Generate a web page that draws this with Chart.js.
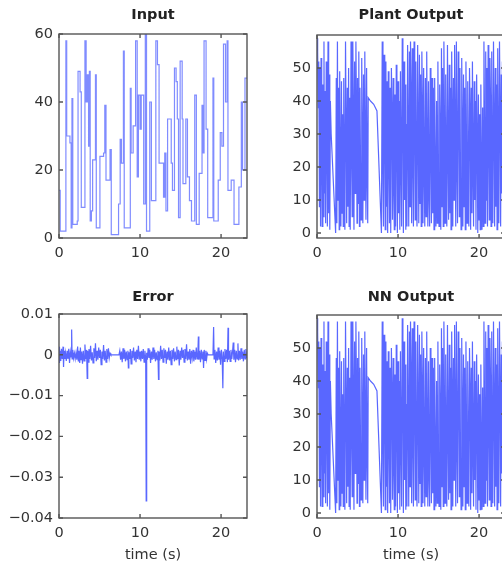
<!DOCTYPE html>
<html>
<head>
<meta charset="utf-8">
<script src="https://cdn.jsdelivr.net/npm/chart.js@4.4.1/dist/chart.umd.min.js"></script>
<style>
  html, body { margin: 0; padding: 0; background: #fff; }
  body { width: 502px; height: 568px; overflow: hidden; position: relative; }
  .panel { position: absolute; }
  canvas { display: block; }
</style>
</head>
<body>
<div class="panel" style="left:0;top:0"><canvas id="inputChart" width="260" height="270"></canvas></div>
<div class="panel" style="left:250px;top:0"><canvas id="plantChart" width="270" height="270"></canvas></div>
<div class="panel" style="left:0;top:280px"><canvas id="errorChart" width="260" height="288"></canvas></div>
<div class="panel" style="left:250px;top:280px"><canvas id="nnChart" width="270" height="288"></canvas></div>
<script>
// tick values / labels
const timeTicks = [0, 10, 20];
const inputTicks = [0, 20, 40, 60];
const outputTicks = [0, 10, 20, 30, 40, 50];
const errorTicks = [-0.04, -0.03, -0.02, -0.01, 0, 0.01];
const errorTickLabels = ['\u22120.04', '\u22120.03', '\u22120.02', '\u22120.01', '0', '0.01'];

// input signal (held between steps)
const inputTime = [
  0, 0.15, 0.85, 0.95, 1.35, 1.5, 1.6, 1.7, 2.25, 2.35, 2.6, 2.75,
  3.2, 3.35, 3.5, 3.65, 3.75, 3.85, 4.0, 4.15, 4.5, 4.6, 5.05, 5.5,
  5.65, 5.8, 6.3, 6.45, 7.35, 7.55, 7.7, 7.95, 8.05, 8.8, 8.9, 9.15,
  9.45, 9.65, 9.8, 10.0, 10.15, 10.45, 10.65, 10.8, 11.2, 11.4, 11.95, 12.15,
  12.35, 12.9, 13.05, 13.2, 13.4, 13.85, 14.0, 14.25, 14.45, 14.6, 14.75, 14.95,
  15.2, 15.3, 15.65, 15.85, 16.1, 16.35, 16.75, 16.95, 17.3, 17.65, 17.75, 17.9,
  18.15, 18.35, 19.0, 19.1, 19.65, 19.9, 20.1, 20.3, 20.55, 20.75, 20.85, 21.25,
  21.6, 22.2, 22.5, 22.65, 22.95, 23.2
];
const inputValue = [
  14, 2, 58, 30, 28, 3, 41, 4, 5, 49, 43, 9,
  58, 40, 48, 27, 49, 5, 8, 23, 48, 3, 24, 25,
  39, 17, 26, 1, 10, 29, 22, 55, 3, 44, 25, 33,
  58, 18, 42, 32, 42, 10, 60, 2, 40, 11, 58, 51,
  22, 12, 25, 8, 35, 22, 14, 50, 46, 35, 6, 52,
  35, 16, 35, 18, 11, 5, 42, 4, 19, 39, 25, 58,
  32, 6, 47, 5, 17, 31, 27, 57, 40, 58, 14, 17,
  4, 15, 40, 20, 47, 47
];

// plant output samples
const plantTime = [
  0, 0.08, 0.16, 0.22, 0.3, 0.36, 0.44, 0.5, 0.58, 0.64, 0.72, 0.8, 0.86, 0.92, 1.0, 1.06, 1.14, 1.2, 1.28, 1.36, 1.44, 1.5, 1.58, 1.65, 1.75, 2.3,
  2.38, 2.45, 2.52, 2.6, 2.66, 2.74, 2.8, 2.88, 2.95, 3.02, 3.1, 3.16, 3.24, 3.3, 3.38, 3.44, 3.52, 3.6, 3.66, 3.74, 3.82, 3.9, 3.96, 4.04, 4.1,
  4.2, 4.28, 4.34, 4.42, 4.5, 4.56, 4.64, 4.72, 4.8, 4.86, 4.94, 5.0, 5.08,
  5.16, 5.24, 5.3, 5.38, 5.44, 5.52, 5.6, 5.66, 5.74, 5.82, 5.9, 5.96, 6.04, 6.12, 6.2, 6.26, 6.32,
  6.6, 7.0, 7.4, 7.95,
  8.05, 8.14, 8.2, 8.28, 8.36, 8.42, 8.5, 8.58, 8.64, 8.72, 8.8, 8.88, 8.94, 9.02, 9.1, 9.18, 9.26, 9.32, 9.4, 9.48, 9.54,
  9.62, 9.7, 9.78, 9.86, 9.92, 10.0, 10.08, 10.16, 10.22, 10.3, 10.38, 10.44, 10.52, 10.6, 10.66, 10.74, 10.82, 10.88, 10.96, 11.04, 11.1,
  11.18, 11.26, 11.32, 11.4, 11.48, 11.54, 11.62, 11.68, 11.76, 11.84, 11.9, 11.98, 12.06, 12.12, 12.2, 12.28, 12.34, 12.42, 12.5, 12.56, 12.64, 12.72, 12.78, 12.86, 12.94,
  13.02, 13.08, 13.16, 13.24, 13.3, 13.38, 13.46, 13.54, 13.6, 13.68, 13.76, 13.84, 13.9, 13.98, 14.06, 14.12, 14.2, 14.28, 14.36, 14.44, 14.52, 14.6, 14.68, 14.76,
  14.84, 14.92, 15.0, 15.06, 15.14, 15.22, 15.28, 15.36, 15.44, 15.5, 15.58, 15.66, 15.74, 15.8, 15.88, 15.96,
  16.02, 16.1, 16.18, 16.24, 16.32, 16.4, 16.48, 16.54, 16.62, 16.7, 16.76, 16.84, 16.92, 16.98, 17.06, 17.12,
  17.2, 17.28, 17.34, 17.42, 17.5, 17.56, 17.64, 17.72, 17.78, 17.86, 17.94, 18.0, 18.08, 18.16, 18.22, 18.3, 18.38, 18.46, 18.52, 18.6, 18.68, 18.74,
  18.82, 18.9, 18.96, 19.04, 19.12, 19.18, 19.26, 19.32, 19.4, 19.48, 19.56, 19.62, 19.7, 19.78, 19.84, 19.92, 20.0, 20.08, 20.14, 20.22, 20.3, 20.36, 20.44,
  20.52, 20.6, 20.68, 20.74, 20.82, 20.9, 20.96, 21.04, 21.12, 21.2, 21.26, 21.34, 21.42, 21.48, 21.56, 21.64, 21.7, 21.78,
  21.86, 21.92, 22.0, 22.08, 22.16, 22.22, 22.3, 22.38, 22.44, 22.52, 22.6, 22.66, 22.74, 22.82, 22.88, 22.96, 23.04, 23.12, 23.2
];
const plantValue = [
  59, 55, 38, 52, 8, 50, 2, 53, 24, 2, 45, 5, 58, 12, 43, 3, 52, 30, 2, 58, 6, 48, 1, 40, 30, 0,
  47, 3, 58, 10, 44, 1, 49, 20, 2, 46, 6, 36, 2, 47, 14, 1, 58, 30, 3, 44, 8, 50, 2, 41, 1,
  58, 20, 5, 58, 34, 1, 52, 12, 58, 40, 3, 47, 9,
  55, 2, 44, 18, 4, 53, 26, 3, 48, 10, 55, 32, 4, 50, 15, 3, 41,
  40, 39, 37, 0,
  58, 15, 2, 54, 30, 1, 52, 8, 46, 0, 49, 22, 3, 44, 0, 50, 35, 4, 47, 12, 1,
  42, 2, 51, 26, 0, 46, 6, 40, 1, 49, 18, 2, 59, 38, 0, 52, 10, 45, 1, 33, 2,
  57, 25, 2, 55, 8, 58, 40, 3, 56, 20, 2, 58, 34, 4, 52, 12, 2, 57, 28, 3, 54, 9, 48, 2, 55,
  36, 3, 50, 16, 2, 47, 5, 55, 30, 2, 46, 10, 2, 50, 24, 3, 47, 6, 44, 1, 47, 20, 2, 40,
  3, 52, 14, 2, 45, 28, 1, 56, 8, 50, 2, 58, 32, 3, 48, 12,
  2, 57, 22, 4, 51, 6, 44, 1, 55, 35, 2, 47, 10, 57, 28, 2,
  58, 18, 3, 55, 40, 5, 50, 12, 1, 53, 30, 2, 48, 8, 44, 1, 52, 24, 3, 46, 14, 2,
  50, 36, 1, 44, 6, 52, 20, 2, 46, 10, 40, 1, 48, 26, 0, 42, 4, 36, 1, 45, 15, 1, 38,
  2, 58, 32, 3, 55, 10, 50, 2, 57, 26, 4, 53, 40, 2, 55, 14, 3, 58,
  30, 2, 50, 8, 45, 1, 56, 22, 3, 58, 36, 2, 48, 12, 52, 4, 45, 20, 47
];
const nnValue = plantValue;

// tracking error samples
const errorTime = [
  0, 0.06, 0.14, 0.22, 0.3, 0.4, 0.5, 0.56, 0.62, 0.72, 0.8, 0.9, 1.0, 1.1, 1.2, 1.3, 1.4, 1.5, 1.56, 1.62, 1.7, 1.8, 1.9, 2.0,
  2.1, 2.2, 2.3, 2.38, 2.46, 2.56, 2.64, 2.72, 2.8, 2.9, 3.0, 3.1, 3.2, 3.3, 3.4, 3.48, 3.54, 3.62, 3.7, 3.8, 3.9, 4.0,
  4.1, 4.2, 4.3, 4.4, 4.5, 4.6, 4.7, 4.8, 4.9, 5.0, 5.1, 5.2, 5.3, 5.4, 5.5, 5.6, 5.7, 5.8, 5.9, 6.0, 6.1, 6.2, 6.3, 6.4,
  7.4, 7.5, 7.6, 7.7, 7.8, 7.9, 8.0, 8.1, 8.2, 8.3, 8.4, 8.5, 8.56, 8.62, 8.72, 8.8, 8.9, 9.0, 9.1, 9.2, 9.3, 9.4,
  9.5, 9.6, 9.7, 9.8, 9.9, 10.0, 10.1, 10.2, 10.3, 10.4, 10.5, 10.6, 10.7, 10.76, 10.82, 10.9, 11.0, 11.1, 11.2, 11.3, 11.4,
  11.5, 11.6, 11.7, 11.8, 11.9, 12.0, 12.1, 12.2, 12.28, 12.34, 12.44, 12.54, 12.64, 12.74, 12.84, 12.94, 13.04, 13.14, 13.24,
  13.34, 13.44, 13.54, 13.64, 13.74, 13.84, 13.94, 14.04, 14.14, 14.24, 14.34, 14.44, 14.54, 14.64, 14.74, 14.84, 14.94,
  15.04, 15.14, 15.24, 15.34, 15.44, 15.54, 15.64, 15.74, 15.84, 15.94, 16.04, 16.14, 16.24, 16.34, 16.44, 16.54, 16.64,
  16.74, 16.84, 16.94, 17.04, 17.14, 17.2, 17.26, 17.36, 17.46, 17.56, 17.66, 17.76, 17.84, 17.92, 18.02, 18.12, 18.22, 18.3, 18.4,
  19.0, 19.08, 19.14, 19.24, 19.34, 19.44, 19.54, 19.64, 19.74, 19.84, 19.94, 20.04, 20.14, 20.22, 20.28, 20.38, 20.48,
  20.58, 20.68, 20.78, 20.86, 20.92, 21.02, 21.12, 21.22, 21.32, 21.42, 21.5, 21.58, 21.68, 21.78, 21.88, 21.98,
  22.08, 22.16, 22.26, 22.36, 22.46, 22.56, 22.66, 22.76, 22.86, 22.96, 23.06, 23.2
];
const errorValue = [
  0.002, -0.002, 0.001, -0.0015, 0.0015, -0.001, 0.002, -0.003, 0.001, -0.001, 0.0005, -0.0015, 0.001, -0.001, 0.0015, -0.002, 0.0008, -0.0005, 0.0062, -0.001, 0.0012, -0.0008, 0.0004, -0.001,
  0.0005, -0.0012, 0.002, -0.0015, 0.001, -0.002, 0.0018, -0.0012, 0.0008, -0.0022, 0.001, -0.0015, 0.0025, -0.001, 0.0012, -0.0058, 0.001, -0.0018, 0.0014, -0.001, 0.0022, -0.0014,
  0.0006, -0.002, 0.0016, -0.0008, 0.0028, -0.0016, 0.001, -0.0012, 0.0018, -0.0008, 0.0012, -0.0024, 0.0008, -0.001, 0.0024, -0.0014, 0.001, -0.0018, 0.0014, -0.001, 0.0016, -0.0008, 0.0004, 0,
  0, 0.001, -0.0012, 0.0008, -0.0018, 0.0016, -0.001, 0.0012, -0.0016, 0.0008, -0.0012, 0.001, -0.0032, 0.0006, -0.001, 0.0014, -0.0022, 0.001, -0.0008, 0.0018, -0.0014, 0.0008,
  -0.0018, 0.0012, -0.001, 0.0022, -0.0012, 0.0008, -0.0016, 0.001, -0.001, 0.0014, -0.0018, 0.001, -0.001, -0.0358, 0.0005, -0.0012, 0.0016, -0.0008, 0.0012, -0.002, 0.0008,
  -0.0012, 0.0018, -0.001, 0.0012, -0.0016, 0.0006, -0.0012, 0.001, -0.006, 0.0008, -0.0014, 0.0022, -0.001, 0.0012, -0.0018, 0.0016, -0.0008, 0.0012, -0.0022,
  0.0008, -0.0012, 0.0018, -0.0014, 0.001, -0.0024, 0.0012, -0.001, 0.0016, -0.0016, 0.0008, -0.0012, 0.002, -0.001, 0.0012, -0.0026, 0.001,
  -0.0012, 0.0018, -0.0008, 0.0012, -0.0018, 0.0014, -0.001, 0.0026, -0.0014, 0.0008, -0.0012, 0.0014, -0.0022, 0.001, -0.0008, 0.0012, -0.0016,
  0.0008, -0.0012, 0.0018, -0.001, 0.0008, 0.0045, -0.0012, 0.001, -0.0018, 0.0012, -0.001, 0.0008, -0.0032, 0.0012, -0.0014, 0.001, -0.001, 0.0004, 0,
  0, 0.0068, -0.001, 0.0012, -0.002, 0.0008, -0.0014, 0.0018, -0.0012, 0.001, -0.0024, 0.0012, -0.001, -0.0082, 0.0008, -0.0016, 0.0014,
  -0.001, 0.0012, -0.0018, 0.0066, -0.0012, 0.001, -0.0016, 0.0012, -0.001, 0.0008, 0.003, -0.0012, 0.0012, -0.0018, 0.001, -0.001,
  0.0028, -0.0014, 0.001, -0.0012, 0.0016, -0.001, 0.0008, -0.0016, 0.0012, -0.001, 0.0014, -0.0008
];

const FONT = "'DejaVu Sans', sans-serif";
const LINE_COLOR = 'rgba(25, 45, 255, 0.72)';

// matlab-style box with inward ticks
const boxPlugin = {
  id: 'box',
  afterDraw(chart) {
    const { ctx, chartArea: a, scales } = chart;
    ctx.save();
    ctx.strokeStyle = '#555';
    ctx.lineWidth = 1.4;
    ctx.strokeRect(a.left, a.top, a.right - a.left, a.bottom - a.top);
    ctx.beginPath();
    scales.x.ticks.forEach(t => {
      const px = scales.x.getPixelForValue(t.value);
      ctx.moveTo(px, a.bottom); ctx.lineTo(px, a.bottom - 4);
      ctx.moveTo(px, a.top); ctx.lineTo(px, a.top + 4);
    });
    scales.y.ticks.forEach(t => {
      const py = scales.y.getPixelForValue(t.value);
      ctx.moveTo(a.left, py); ctx.lineTo(a.left + 4, py);
      ctx.moveTo(a.right, py); ctx.lineTo(a.right - 4, py);
    });
    ctx.stroke();
    ctx.restore();
  }
};

const makePanel = (id, cfg) => {
  const points = cfg.times.map((t, i) => ({ x: t, y: cfg.values[i] }));
  new Chart(document.getElementById(id), {
    type: 'line',
    data: {
      datasets: [{
        data: points,
        borderColor: cfg.color || LINE_COLOR,
        borderWidth: cfg.lineWidth,
        pointRadius: 0,
        stepped: cfg.stepped || false,
      }],
    },
    options: {
      responsive: false,
      animation: false,
      devicePixelRatio: 1,
      layout: { padding: { left: 0, right: cfg.padRight, top: 0, bottom: 0 } },
      plugins: {
        legend: { display: false },
        tooltip: { enabled: false },
        title: {
          display: true,
          text: cfg.title,
          fullSize: false,
          color: '#222',
          font: { family: FONT, size: 14.5, weight: 'bold' },
          padding: { top: cfg.titleTop, bottom: cfg.titleBottom },
        },
      },
      scales: {
        x: {
          type: 'linear',
          min: 0,
          max: 23.2,
          grid: { display: false, drawTicks: false },
          border: { display: false },
          ticks: { color: '#333', padding: 7, font: { family: FONT, size: 14.5 } },
          afterBuildTicks: (s) => { s.ticks = timeTicks.map(v => ({ value: v })); },
          afterFit: (s) => { s.height = cfg.xHeight; },
          title: {
            display: !!cfg.xTitle,
            text: cfg.xTitle || '',
            color: '#333',
            font: { family: FONT, size: 14.5 },
            padding: { top: 0, bottom: 4 },
          },
        },
        y: {
          type: 'linear',
          min: cfg.yMin,
          max: cfg.yMax,
          grid: { display: false, drawTicks: false },
          border: { display: false },
          ticks: {
            color: '#333',
            padding: 6,
            font: { family: FONT, size: 14.5 },
            callback: (v, i) => cfg.yLabels[i],
          },
          afterBuildTicks: (s) => { s.ticks = cfg.yTicks.map(v => ({ value: v })); },
          afterFit: (s) => { s.width = cfg.yWidth; },
        },
      },
    },
    plugins: [boxPlugin],
  });
};

makePanel('inputChart', {
  title: 'Input', times: inputTime, values: inputValue, stepped: true, lineWidth: 1.2,
  color: 'rgba(50, 70, 255, 0.62)',
  yMin: 0, yMax: 60, yTicks: inputTicks, yLabels: inputTicks.map(String),
  yWidth: 59, padRight: 13, xHeight: 32, titleTop: 7, titleBottom: 9.6,
});
makePanel('plantChart', {
  title: 'Plant Output', times: plantTime, values: plantValue, lineWidth: 1.2,
  yMin: -1.5, yMax: 60, yTicks: outputTicks, yLabels: outputTicks.map(String),
  yWidth: 67, padRight: 15, xHeight: 32, titleTop: 7, titleBottom: 10.6,
});
makePanel('errorChart', {
  title: 'Error', times: errorTime, values: errorValue, xTitle: 'time (s)', lineWidth: 1.2,
  yMin: -0.04, yMax: 0.01, yTicks: errorTicks, yLabels: errorTickLabels,
  yWidth: 59, padRight: 13, xHeight: 50, titleTop: 9, titleBottom: 7.6,
});
makePanel('nnChart', {
  title: 'NN Output', times: plantTime, values: nnValue, xTitle: 'time (s)', lineWidth: 1.2,
  yMin: -1.5, yMax: 60, yTicks: outputTicks, yLabels: outputTicks.map(String),
  yWidth: 67, padRight: 15, xHeight: 50, titleTop: 9, titleBottom: 8.6,
});
</script>
</body>
</html>
